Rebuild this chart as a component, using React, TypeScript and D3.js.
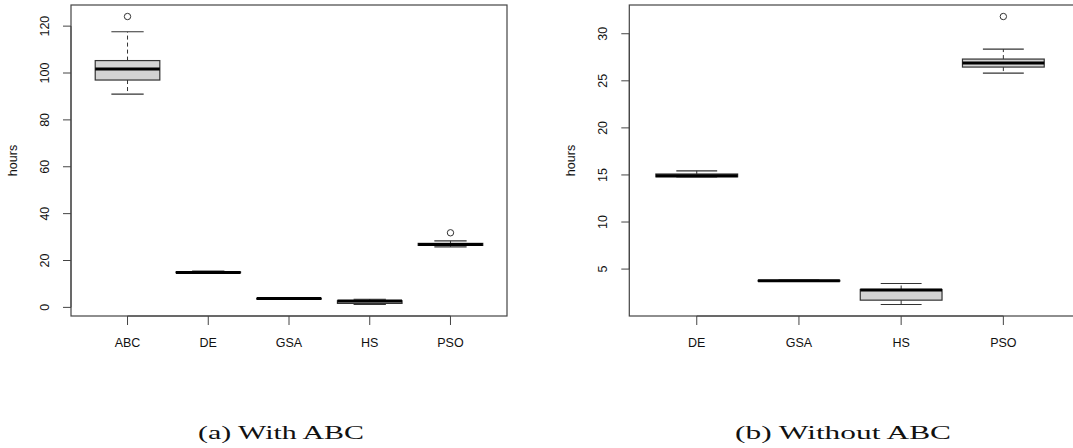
import React from "react";
import * as d3 from "d3";

// ---- data ----
const categories = ["ABC", "DE", "GSA", "HS", "PSO"];
const whiskerLow = [91.0, 14.78, 3.7, 1.24, 25.82];
const q1 = [97.0, 14.8, 3.72, 1.7, 26.46];
const medians = [101.7, 14.92, 3.76, 2.77, 26.88];
const q3 = [105.3, 15.1, 3.8, 2.83, 27.31];
const whiskerHigh = [117.6, 15.44, 3.82, 3.47, 28.37];
const outliers = [[124.1], [], [], [], [31.83]];

const ticksWith = [0, 20, 40, 60, 80, 100, 120];
const ticksWithout = [5, 10, 15, 20, 25, 30];
const captions = ["(a) With ABC", "(b) Without ABC"];
const yLabel = "hours";

type Row = { cat: string; lo: number; q1: number; med: number; q3: number; hi: number; out: number[] };
const rows: Row[] = categories.map((c, i) => ({
  cat: c,
  lo: whiskerLow[i],
  q1: q1[i],
  med: medians[i],
  q3: q3[i],
  hi: whiskerHigh[i],
  out: outliers[i],
}));

const FONT = "'Liberation Sans', Arial, Helvetica, sans-serif";

function Panel({
  data,
  left,
  right,
  top,
  bottom,
  ticks,
  frameRight,
}: {
  data: Row[];
  left: number;
  right: number;
  top: number;
  bottom: number;
  ticks: number[];
  frameRight: number;
}) {
  const n = data.length;
  const x = d3
    .scaleLinear()
    .domain([0.5 - 0.04 * n, n + 0.5 + 0.04 * n])
    .range([left, right]);
  const allVals = data.flatMap((d) => [d.lo, d.hi, ...d.out]);
  const mn = d3.min(allVals)!;
  const mx = d3.max(allVals)!;
  const pad = (mx - mn) * 0.04;
  const y = d3.scaleLinear().domain([mn - pad, mx + pad]).range([bottom, top]);
  const unit = x(2) - x(1);
  const bw = unit * 0.8;
  const sw = bw / 2;
  const stroke = "#333";
  return (
    <g>
      {data.map((d, i) => {
        const cx = x(i + 1);
        return (
          <g key={d.cat}>
            <line x1={cx} x2={cx} y1={y(d.q3)} y2={y(d.hi)} stroke={stroke} strokeWidth={1} strokeDasharray="4,3" />
            <line x1={cx} x2={cx} y1={y(d.q1)} y2={y(d.lo)} stroke={stroke} strokeWidth={1} strokeDasharray="4,3" />
            <line x1={cx - sw / 2} x2={cx + sw / 2} y1={y(d.hi)} y2={y(d.hi)} stroke={stroke} strokeWidth={1.2} />
            <line x1={cx - sw / 2} x2={cx + sw / 2} y1={y(d.lo)} y2={y(d.lo)} stroke={stroke} strokeWidth={1.2} />
            <rect
              x={cx - bw / 2}
              y={y(d.q3)}
              width={bw}
              height={Math.max(0.5, y(d.q1) - y(d.q3))}
              fill="#d3d3d3"
              stroke={stroke}
              strokeWidth={1.2}
            />
            <line x1={cx - bw / 2} x2={cx + bw / 2} y1={y(d.med)} y2={y(d.med)} stroke="#000" strokeWidth={3} />
            {d.out.map((o, k) => (
              <circle key={k} cx={cx} cy={y(o)} r={3.2} fill="none" stroke={stroke} strokeWidth={1} />
            ))}
          </g>
        );
      })}
      <rect x={left} y={top} width={frameRight - left} height={bottom - top} fill="none" stroke="#444" strokeWidth={1.2} />
      {/* y axis */}
      <line x1={left} x2={left} y1={y(ticks[0])} y2={y(ticks[ticks.length - 1])} stroke="#444" strokeWidth={1} />
      {ticks.map((t) => (
        <g key={t}>
          <line x1={left - 8} x2={left} y1={y(t)} y2={y(t)} stroke="#444" strokeWidth={1} />
          <text
            transform={`translate(${left - 26},${y(t)}) rotate(-90)`}
            textAnchor="middle"
            dominantBaseline="central"
            fontFamily={FONT}
            fontSize={12.5}
            fill="#111"
          >
            {t}
          </text>
        </g>
      ))}
      <text
        transform={`translate(${left - 58},${(top + bottom) / 2}) rotate(-90)`}
        textAnchor="middle"
        dominantBaseline="central"
        fontFamily={FONT}
        fontSize={12.5}
        fill="#111"
      >
        {yLabel}
      </text>
      {/* x axis */}
      <line x1={x(1)} x2={x(n)} y1={bottom} y2={bottom} stroke="#444" strokeWidth={1} />
      {data.map((d, i) => (
        <g key={"t" + d.cat}>
          <line x1={x(i + 1)} x2={x(i + 1)} y1={bottom} y2={bottom + 9} stroke="#444" strokeWidth={1} />
          <text x={x(i + 1)} y={347} textAnchor="middle" fontFamily={FONT} fontSize={12.5} fill="#111">
            {d.cat}
          </text>
        </g>
      ))}
    </g>
  );
}

export default function App() {
  return (
    <svg
      width={1073}
      height={448}
      style={{ position: "absolute", left: 0, top: 0, background: "#fff" }}
    >
      <rect width={1073} height={448} fill="#fff" />
      <Panel data={rows} left={71} right={507} frameRight={507} top={5} bottom={316} ticks={ticksWith} />
      <Panel
        data={rows.slice(1)}
        left={629.3}
        right={1070.8}
        frameRight={1076}
        top={5}
        bottom={316}
        ticks={ticksWithout}
      />
      <text
        x={281}
        y={439}
        textAnchor="middle"
        fontFamily="'Liberation Serif', 'Times New Roman', serif"
        fontSize={19}
        textLength={166}
        lengthAdjust="spacingAndGlyphs"
        fill="#111"
      >
        {captions[0]}
      </text>
      <text
        x={843}
        y={439}
        textAnchor="middle"
        fontFamily="'Liberation Serif', 'Times New Roman', serif"
        fontSize={19}
        textLength={216}
        lengthAdjust="spacingAndGlyphs"
        fill="#111"
      >
        {captions[1]}
      </text>
    </svg>
  );
}
